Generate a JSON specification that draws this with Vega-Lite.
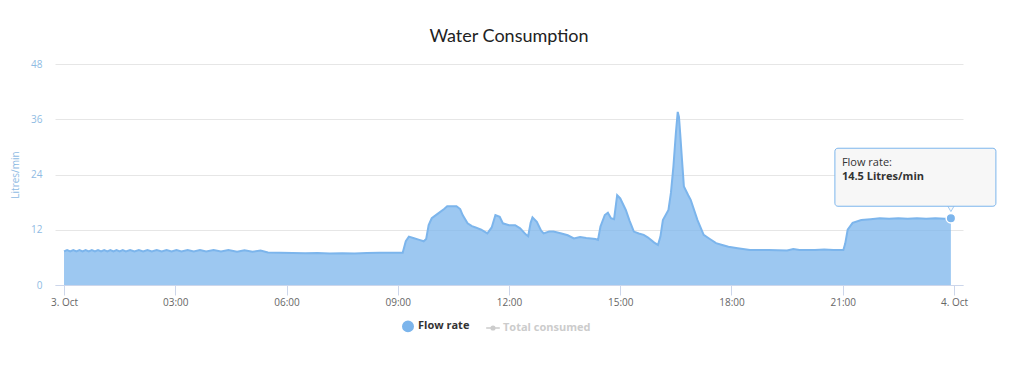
{
  "$schema": "https://vega.github.io/schema/vega-lite/v6.json",
  "width": 908,
  "height": 221,
  "autosize": {"type": "none"},
  "padding": {"left": 55, "top": 64, "right": 61, "bottom": 80},
  "background": "white",
  "title": {
    "text": "Water Consumption",
    "anchor": "middle",
    "frame": "group",
    "font": "Lato",
    "fontSize": 18,
    "fontWeight": "normal",
    "color": "#222222",
    "offset": 13
  },
  "config": {
    "view": {"stroke": null},
    "font": "Open Sans"
  },
  "data": {
    "values": [
      {"t": "2023-10-03T00:00", "v": 7.3},
      {"t": "2023-10-03T00:05", "v": 7.6},
      {"t": "2023-10-03T00:10", "v": 7.3},
      {"t": "2023-10-03T00:15", "v": 7.6},
      {"t": "2023-10-03T00:20", "v": 7.3},
      {"t": "2023-10-03T00:25", "v": 7.6},
      {"t": "2023-10-03T00:30", "v": 7.3},
      {"t": "2023-10-03T00:35", "v": 7.6},
      {"t": "2023-10-03T00:40", "v": 7.3},
      {"t": "2023-10-03T00:45", "v": 7.6},
      {"t": "2023-10-03T00:50", "v": 7.3},
      {"t": "2023-10-03T00:55", "v": 7.6},
      {"t": "2023-10-03T01:00", "v": 7.3},
      {"t": "2023-10-03T01:05", "v": 7.6},
      {"t": "2023-10-03T01:10", "v": 7.3},
      {"t": "2023-10-03T01:15", "v": 7.6},
      {"t": "2023-10-03T01:20", "v": 7.3},
      {"t": "2023-10-03T01:25", "v": 7.6},
      {"t": "2023-10-03T01:30", "v": 7.3},
      {"t": "2023-10-03T01:35", "v": 7.6},
      {"t": "2023-10-03T01:40", "v": 7.3},
      {"t": "2023-10-03T01:47", "v": 7.6},
      {"t": "2023-10-03T01:54", "v": 7.3},
      {"t": "2023-10-03T02:01", "v": 7.6},
      {"t": "2023-10-03T02:08", "v": 7.3},
      {"t": "2023-10-03T02:15", "v": 7.6},
      {"t": "2023-10-03T02:22", "v": 7.3},
      {"t": "2023-10-03T02:30", "v": 7.6},
      {"t": "2023-10-03T02:38", "v": 7.3},
      {"t": "2023-10-03T02:46", "v": 7.6},
      {"t": "2023-10-03T02:54", "v": 7.3},
      {"t": "2023-10-03T03:02", "v": 7.6},
      {"t": "2023-10-03T03:10", "v": 7.3},
      {"t": "2023-10-03T03:20", "v": 7.6},
      {"t": "2023-10-03T03:30", "v": 7.3},
      {"t": "2023-10-03T03:40", "v": 7.6},
      {"t": "2023-10-03T03:50", "v": 7.3},
      {"t": "2023-10-03T04:02", "v": 7.6},
      {"t": "2023-10-03T04:14", "v": 7.3},
      {"t": "2023-10-03T04:26", "v": 7.6},
      {"t": "2023-10-03T04:40", "v": 7.25},
      {"t": "2023-10-03T04:52", "v": 7.55},
      {"t": "2023-10-03T05:05", "v": 7.2},
      {"t": "2023-10-03T05:18", "v": 7.5},
      {"t": "2023-10-03T05:30", "v": 7.05},
      {"t": "2023-10-03T05:50", "v": 7.0},
      {"t": "2023-10-03T06:10", "v": 6.95},
      {"t": "2023-10-03T06:30", "v": 6.9},
      {"t": "2023-10-03T06:50", "v": 6.95},
      {"t": "2023-10-03T07:10", "v": 6.85},
      {"t": "2023-10-03T07:30", "v": 6.9},
      {"t": "2023-10-03T07:50", "v": 6.85},
      {"t": "2023-10-03T08:10", "v": 6.95},
      {"t": "2023-10-03T08:30", "v": 7.0},
      {"t": "2023-10-03T08:50", "v": 7.0},
      {"t": "2023-10-03T09:08", "v": 7.0},
      {"t": "2023-10-03T09:13", "v": 9.5},
      {"t": "2023-10-03T09:18", "v": 10.5},
      {"t": "2023-10-03T09:25", "v": 10.2},
      {"t": "2023-10-03T09:35", "v": 9.8},
      {"t": "2023-10-03T09:42", "v": 9.5},
      {"t": "2023-10-03T09:46", "v": 10.0},
      {"t": "2023-10-03T09:50", "v": 13.0},
      {"t": "2023-10-03T09:55", "v": 14.5},
      {"t": "2023-10-03T10:05", "v": 15.5},
      {"t": "2023-10-03T10:15", "v": 16.5},
      {"t": "2023-10-03T10:20", "v": 17.1},
      {"t": "2023-10-03T10:35", "v": 17.1},
      {"t": "2023-10-03T10:41", "v": 16.5},
      {"t": "2023-10-03T10:45", "v": 15.2},
      {"t": "2023-10-03T10:53", "v": 13.4},
      {"t": "2023-10-03T11:00", "v": 12.8},
      {"t": "2023-10-03T11:06", "v": 12.5},
      {"t": "2023-10-03T11:15", "v": 12.0},
      {"t": "2023-10-03T11:25", "v": 11.2},
      {"t": "2023-10-03T11:32", "v": 12.5},
      {"t": "2023-10-03T11:38", "v": 15.2},
      {"t": "2023-10-03T11:45", "v": 14.8},
      {"t": "2023-10-03T11:50", "v": 13.4},
      {"t": "2023-10-03T12:00", "v": 13.0},
      {"t": "2023-10-03T12:10", "v": 13.0},
      {"t": "2023-10-03T12:18", "v": 12.3},
      {"t": "2023-10-03T12:27", "v": 11.0},
      {"t": "2023-10-03T12:31", "v": 10.6},
      {"t": "2023-10-03T12:35", "v": 13.5},
      {"t": "2023-10-03T12:38", "v": 14.7},
      {"t": "2023-10-03T12:45", "v": 13.7},
      {"t": "2023-10-03T12:52", "v": 11.8},
      {"t": "2023-10-03T12:56", "v": 11.2},
      {"t": "2023-10-03T13:05", "v": 11.6},
      {"t": "2023-10-03T13:12", "v": 11.6},
      {"t": "2023-10-03T13:25", "v": 11.2},
      {"t": "2023-10-03T13:35", "v": 10.8},
      {"t": "2023-10-03T13:45", "v": 10.1},
      {"t": "2023-10-03T13:55", "v": 10.4},
      {"t": "2023-10-03T14:05", "v": 10.2},
      {"t": "2023-10-03T14:20", "v": 10.0},
      {"t": "2023-10-03T14:24", "v": 9.8},
      {"t": "2023-10-03T14:28", "v": 12.7},
      {"t": "2023-10-03T14:35", "v": 15.2},
      {"t": "2023-10-03T14:40", "v": 15.7},
      {"t": "2023-10-03T14:45", "v": 14.5},
      {"t": "2023-10-03T14:50", "v": 14.3},
      {"t": "2023-10-03T14:55", "v": 19.5},
      {"t": "2023-10-03T15:00", "v": 18.8},
      {"t": "2023-10-03T15:09", "v": 16.3},
      {"t": "2023-10-03T15:15", "v": 14.0},
      {"t": "2023-10-03T15:22", "v": 11.6},
      {"t": "2023-10-03T15:30", "v": 11.2},
      {"t": "2023-10-03T15:38", "v": 10.9},
      {"t": "2023-10-03T15:45", "v": 10.3},
      {"t": "2023-10-03T15:55", "v": 9.2},
      {"t": "2023-10-03T16:01", "v": 8.7},
      {"t": "2023-10-03T16:05", "v": 10.5},
      {"t": "2023-10-03T16:09", "v": 14.1},
      {"t": "2023-10-03T16:18", "v": 16.3},
      {"t": "2023-10-03T16:22", "v": 20.0},
      {"t": "2023-10-03T16:26", "v": 25.7},
      {"t": "2023-10-03T16:30", "v": 33.0},
      {"t": "2023-10-03T16:33", "v": 37.6},
      {"t": "2023-10-03T16:35", "v": 36.5},
      {"t": "2023-10-03T16:37", "v": 32.9},
      {"t": "2023-10-03T16:40", "v": 27.0},
      {"t": "2023-10-03T16:43", "v": 21.4},
      {"t": "2023-10-03T16:50", "v": 19.5},
      {"t": "2023-10-03T16:54", "v": 18.5},
      {"t": "2023-10-03T17:05", "v": 14.1},
      {"t": "2023-10-03T17:15", "v": 10.9},
      {"t": "2023-10-03T17:25", "v": 10.0},
      {"t": "2023-10-03T17:35", "v": 9.1},
      {"t": "2023-10-03T17:45", "v": 8.7},
      {"t": "2023-10-03T17:55", "v": 8.3},
      {"t": "2023-10-03T18:10", "v": 8.0},
      {"t": "2023-10-03T18:30", "v": 7.6},
      {"t": "2023-10-03T19:00", "v": 7.6},
      {"t": "2023-10-03T19:30", "v": 7.5},
      {"t": "2023-10-03T19:40", "v": 7.8},
      {"t": "2023-10-03T19:50", "v": 7.6},
      {"t": "2023-10-03T20:15", "v": 7.6},
      {"t": "2023-10-03T20:30", "v": 7.7},
      {"t": "2023-10-03T20:45", "v": 7.6},
      {"t": "2023-10-03T21:01", "v": 7.6},
      {"t": "2023-10-03T21:04", "v": 9.0},
      {"t": "2023-10-03T21:08", "v": 12.0},
      {"t": "2023-10-03T21:16", "v": 13.5},
      {"t": "2023-10-03T21:30", "v": 14.1},
      {"t": "2023-10-03T21:45", "v": 14.3},
      {"t": "2023-10-03T22:00", "v": 14.5},
      {"t": "2023-10-03T22:15", "v": 14.4},
      {"t": "2023-10-03T22:30", "v": 14.5},
      {"t": "2023-10-03T22:45", "v": 14.4},
      {"t": "2023-10-03T23:00", "v": 14.5},
      {"t": "2023-10-03T23:15", "v": 14.4},
      {"t": "2023-10-03T23:30", "v": 14.5},
      {"t": "2023-10-03T23:45", "v": 14.4},
      {"t": "2023-10-03T23:55", "v": 14.5}
    ]
  },
  "encoding": {
    "x": {
      "field": "t",
      "type": "temporal",
      "scale": {
        "domain": [
          {"year": 2023, "month": 10, "date": 2, "hours": 23, "minutes": 45, "seconds": 25},
          {"year": 2023, "month": 10, "date": 4, "hours": 0, "minutes": 14, "seconds": 35}
        ],
        "nice": false
      },
      "axis": {
        "title": null,
        "grid": false,
        "domainColor": "#ccd6eb",
        "tickColor": "#ccd6eb",
        "tickSize": 10,
        "labelColor": "#666666",
        "labelFontSize": 10,
        "labelPadding": 2,
        "labelFlush": false,
        "labelOverlap": false,
        "format": "%H:%M",
        "labelExpr": "hours(datum.value) == 0 ? date(datum.value) + '. Oct' : datum.label",
        "values": [
          {"year": 2023, "month": 10, "date": 3, "hours": 0},
          {"year": 2023, "month": 10, "date": 3, "hours": 3},
          {"year": 2023, "month": 10, "date": 3, "hours": 6},
          {"year": 2023, "month": 10, "date": 3, "hours": 9},
          {"year": 2023, "month": 10, "date": 3, "hours": 12},
          {"year": 2023, "month": 10, "date": 3, "hours": 15},
          {"year": 2023, "month": 10, "date": 3, "hours": 18},
          {"year": 2023, "month": 10, "date": 3, "hours": 21},
          {"year": 2023, "month": 10, "date": 4, "hours": 0}
        ]
      }
    },
    "y": {
      "field": "v",
      "type": "quantitative",
      "scale": {"domain": [0, 48], "nice": false},
      "axis": {
        "title": "Litres/min",
        "titleColor": "#8fbbe3",
        "titleFontSize": 10,
        "titleFontWeight": "normal",
        "titlePadding": 10,
        "values": [0, 12, 24, 36, 48],
        "grid": true,
        "gridColor": "#e6e6e6",
        "domain": false,
        "ticks": false,
        "labelColor": "#8fbbe3",
        "labelFontSize": 10,
        "labelPadding": 13
      }
    }
  },
  "layer": [
    {
      "mark": {
        "type": "area",
        "line": {"color": "#6fa8e0", "strokeWidth": 2},
        "fillOpacity": 0.75
      },
      "encoding": {
        "color": {
          "datum": "Flow rate",
          "type": "nominal",
          "scale": {"domain": ["Flow rate", "Total consumed"], "range": ["#7cb5ec", "#cccccc"]},
          "legend": {
            "title": null,
            "orient": "none",
            "direction": "horizontal",
            "legendX": 347,
            "legendY": 256,
            "symbolType": "circle",
            "symbolSize": 110,
            "symbolOpacity": 1,
            "labelFontSize": 11,
            "labelFontWeight": "bold",
            "labelColor": "#333333",
            "columnPadding": 13,
            "encode": {
              "labels": {"update": {"fill": {"signal": "datum.label == 'Total consumed' ? '#cccccc' : '#333333'"}}},
              "symbols": {"update": {
                "shape": {"signal": "datum.label == 'Total consumed' ? 'M-1.3,0L1.3,0M-0.35,0A0.35,0.35,0,1,0,0.35,0A0.35,0.35,0,1,0,-0.35,0Z' : 'circle'"},
                "stroke": {"signal": "datum.label == 'Total consumed' ? '#cccccc' : 'transparent'"},
                "strokeWidth": {"value": 1.5}
              }}
            }
          }
        }
      }
    },
    {
      "transform": [{"filter": "hours(datum.t) == 23 && minutes(datum.t) == 55"}],
      "mark": {
        "type": "point",
        "shape": "triangle-down",
        "filled": true,
        "fill": "#f7f7f7",
        "stroke": "#7cb5ec",
        "strokeWidth": 1,
        "size": 60,
        "yOffset": -10
      }
    },
    {
      "transform": [{"filter": "hours(datum.t) == 23 && minutes(datum.t) == 55"}],
      "mark": {
        "type": "rect",
        "fill": "#f7f7f7",
        "stroke": "#7cb5ec",
        "strokeWidth": 1,
        "cornerRadius": 3,
        "xOffset": -116,
        "x2Offset": 45,
        "yOffset": -70,
        "y2Offset": -12
      },
      "encoding": {"x2": {"field": "t"}, "y2": {"field": "v"}}
    },
    {
      "transform": [{"filter": "hours(datum.t) == 23 && minutes(datum.t) == 55"}],
      "mark": {
        "type": "text",
        "align": "left",
        "baseline": "alphabetic",
        "dx": -109,
        "dy": -52,
        "fontSize": 11,
        "color": "#333333",
        "text": "Flow rate:"
      }
    },
    {
      "transform": [{"filter": "hours(datum.t) == 23 && minutes(datum.t) == 55"}],
      "mark": {
        "type": "text",
        "align": "left",
        "baseline": "alphabetic",
        "dx": -109,
        "dy": -38,
        "fontSize": 11,
        "fontWeight": "bold",
        "color": "#333333",
        "text": "14.5 Litres/min"
      }
    },
    {
      "transform": [{"filter": "hours(datum.t) == 23 && minutes(datum.t) == 55"}],
      "mark": {
        "type": "point",
        "shape": "circle",
        "filled": true,
        "fill": "#7cb5ec",
        "stroke": "#ffffff",
        "strokeWidth": 1.5,
        "size": 90,
        "opacity": 1
      }
    }
  ]
}
